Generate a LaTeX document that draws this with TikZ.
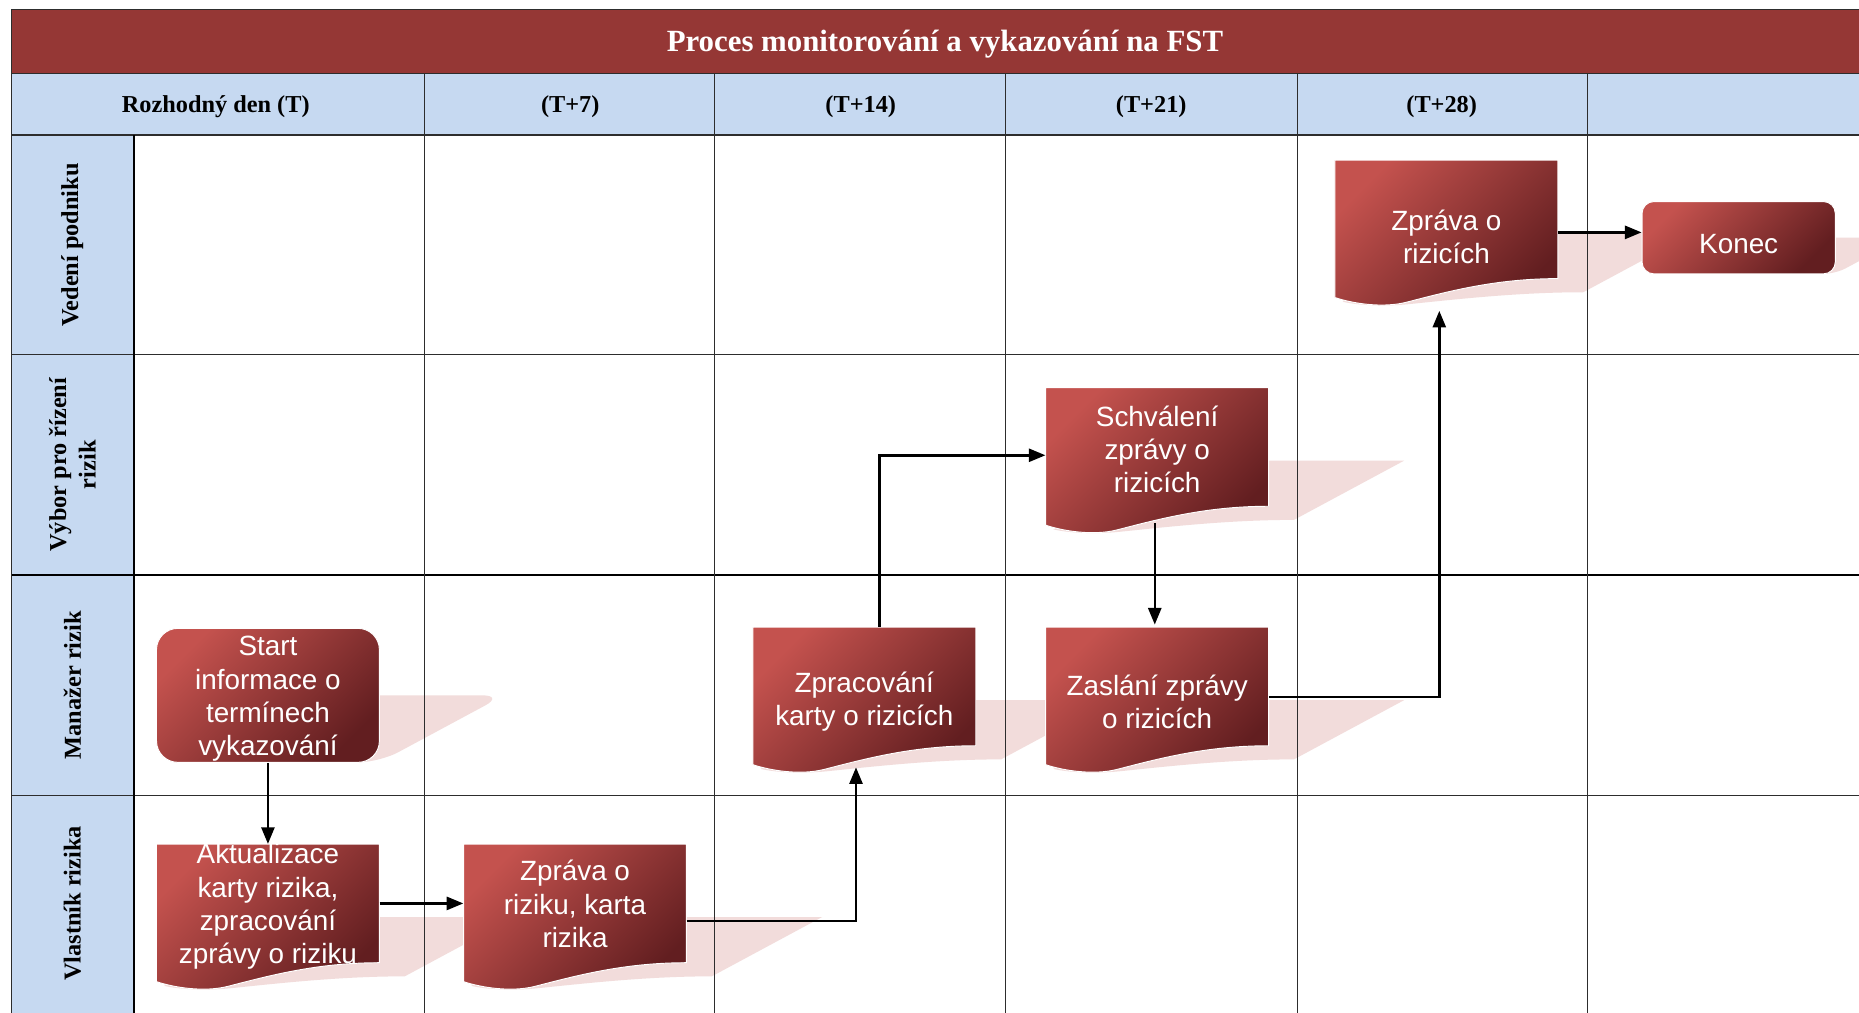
\documentclass[tikz,border=0pt]{standalone}
\usepackage{fontspec}
\setmainfont{Liberation Serif}
\newfontfamily\boxfont{Liberation Sans}
\usetikzlibrary{arrows.meta}

\definecolor{titlered}{RGB}{149,55,53}
\definecolor{headblue}{RGB}{198,217,241}
\definecolor{shadowpink}{RGB}{242,220,219}
\definecolor{boxlight}{RGB}{196,82,78}
\definecolor{boxdark}{RGB}{98,30,32}
\definecolor{gridline}{RGB}{45,45,45}

\tikzset{
  boxfill/.style={top color=boxlight, bottom color=boxdark, shading angle=45,
    draw=white, line width=0.8pt},
  boxframe/.style={rectangle, inner sep=0pt, minimum width=188pt},
  boxtext/.style={text=white, font=\boxfont\fontsize{23.5}{28}\selectfont,
    align=center, inner sep=0pt},
  flow/.style={draw=black, line width=2.1pt, -{Triangle[length=14pt,width=11pt]}},
  headtext/.style={font=\fontsize{20.5}{25}\selectfont\bfseries, align=center, inner sep=0pt},
  gridthin/.style={draw=gridline, line width=0.9pt},
  gridthick/.style={draw=black, line width=2pt},
}

% perspective shadow of a document shape whose top-left corner is (#1,#2)
\newcommand\docshadow[2]{%
  \begin{scope}[shift={(#1,#2+123)}, xslant=1.86, yscale=0.5]
    \fill[shadowpink] (0,-123) -- (188,-123) -- (188,-23)
      .. controls (135,-23) and (95,-12) .. (60,-3)
      .. controls (40,2) and (15,-2) .. (0,-7) -- cycle;
  \end{scope}}

% perspective shadow of a rounded box: x, y, width, height, radius
\newcommand\roundshadow[5]{%
  \begin{scope}[shift={(#1,#2+#4)}, xslant=1.86, yscale=0.5]
    \fill[shadowpink, rounded corners=#5] (0,-#4) rectangle (#3,0);
  \end{scope}}

% document shape: name, x, y (top-left), text depth below the top, text
\newcommand\docbox[5]{%
  \path[boxfill] (#2,#3) -- (#2+188,#3) -- (#2+188,#3+100)
    .. controls (#2+135,#3+100) and (#2+95,#3+111) .. (#2+60,#3+120)
    .. controls (#2+40,#3+125) and (#2+15,#3+121) .. (#2,#3+116) -- cycle;
  \node[boxframe, minimum height=100pt] (#1) at (#2+94,#3+50) {};
  \node[boxtext] (#1-text) at (#2+94,#3+#4) {#5};}

\begin{document}
\begin{tikzpicture}[x=1pt, y=-1pt]
\useasboundingbox (0,0) rectangle (1568,854);
\clip (0,0) rectangle (1568,854);
\fill[white] (0,0) rectangle (1568,854);

% banded backgrounds
\fill[titlered] (10,8) rectangle (1568,62);
\fill[headblue] (10,62) rectangle (1568,114);
\fill[headblue] (10,114) rectangle (113,854);

% shadows
\roundshadow{132}{530}{188}{113}{18pt}
\docshadow{132}{712}
\docshadow{391}{712}
\docshadow{635}{529}
\docshadow{882}{327}
\docshadow{882}{529}
\docshadow{1126}{135}
\roundshadow{1385}{170}{163}{61}{10pt}

% grid
\draw[gridthin] (10,8) -- (1568,8);
\draw[gridthin] (10,62) -- (1568,62);
\draw[draw=gridline, line width=1.3pt] (10,114) -- (1568,114);
\draw[gridthin] (10,299) -- (1568,299);
\draw[gridthick] (10,485) -- (1568,485);
\draw[gridthin] (10,671) -- (1568,671);
\draw[gridthin] (10,8) -- (10,854);
\draw[gridthick] (113,114) -- (113,854);
\foreach \cx in {358,603,848,1094,1339}
  \draw[gridthin] (\cx,62) -- (\cx,854);

% title and column headings
\node[font=\fontsize{26}{30}\selectfont\bfseries, text=white, inner sep=0pt]
  (title) at (797,37.5) {Proces monitorování a vykazování na FST};
\node[headtext] (colT)   at (182,90)  {Rozhodný den (T)};
\node[headtext] (colT7)  at (481,90)  {(T+7)};
\node[headtext] (colT14) at (726,90)  {(T+14)};
\node[headtext] (colT21) at (971,90)  {(T+21)};
\node[headtext] (colT28) at (1216,90) {(T+28)};

% lane headings
\node[headtext, rotate=90] (laneA) at (61,206.5) {Vedení podniku};
\node[headtext, rotate=90] (laneB) at (61,392)   {Výbor pro řízení\\rizik};
\node[headtext, rotate=90] (laneC) at (61,578)   {Manažer rizik};
\node[headtext, rotate=90] (laneD) at (61,762)   {Vlastník rizika};

% process steps
\node[boxfill, boxframe, rounded corners=18pt, minimum height=113pt] (start) at (226,586.5) {};
\node[boxtext] (start-text) at (226,589.5) {Start\\informace o\\termínech\\vykazování};
\docbox{akt}{132}{712}{52.5}{Aktualizace\\karty rizika,\\zpracování\\zprávy o riziku}
\docbox{zpr}{391}{712}{50.5}{Zpráva o\\riziku, karta\\rizika}
\docbox{zprac}{635}{529}{63}{Zpracování\\karty o rizicích}
\docbox{schv}{882}{327}{52}{Schválení\\zprávy o\\rizicích}
\docbox{zasl}{882}{529}{63}{Zaslání zprávy\\o rizicích}
\docbox{zprR}{1126}{135}{65}{Zpráva o\\rizicích}
\node[boxfill, rectangle, inner sep=0pt, rounded corners=10pt, minimum width=163pt,
  minimum height=61pt] (konec) at (1466.5,200.5) {};
\node[boxtext] (konec-text) at (1466.5,206) {Konec};

% connectors
\draw[flow] (start.south) -- (akt.north);
\draw[flow] (akt.east) -- (zpr.west);
\draw[flow] ([yshift=-15pt]zpr.east) -| ([xshift=-7pt,yshift=-18pt]zprac.south);
\draw[flow] ([xshift=13pt]zprac.north) |- ([yshift=-7pt]schv.west);
\draw[flow] ([xshift=-2pt,yshift=-14pt]schv.south) -- ([xshift=-2pt,yshift=2pt]zasl.north);
\draw[flow] ([yshift=-9pt]zasl.east) -| ([xshift=-6pt,yshift=-27pt]zprR.south);
\coordinate (k1) at ([yshift=-11pt]zprR.east);
\draw[flow] (k1) -- (k1 -| konec.west);
\end{tikzpicture}
\end{document}
